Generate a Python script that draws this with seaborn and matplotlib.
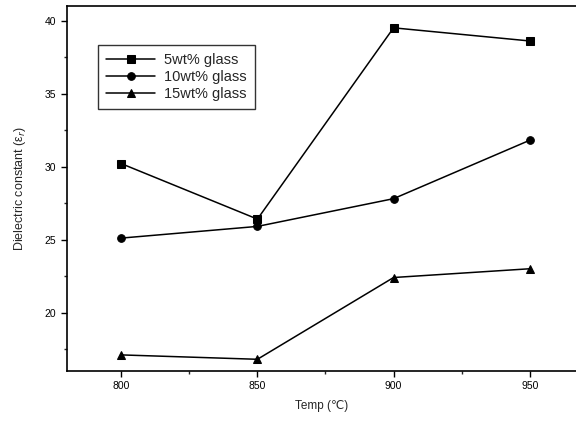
import matplotlib
matplotlib.use("Agg")
import matplotlib.pyplot as plt
from matplotlib.ticker import MultipleLocator
import pandas as pd
import seaborn as sns

temps = [800, 850, 900, 950]
glass_5 = [30.2, 26.4, 39.5, 38.6]
glass_10 = [25.1, 25.9, 27.8, 31.8]
glass_15 = [17.1, 16.8, 22.4, 23.0]
labels = ["5wt% glass", "10wt% glass", "15wt% glass"]

df = pd.DataFrame({
    "Temp": temps * 3,
    "value": glass_5 + glass_10 + glass_15,
    "series": [labels[0]] * 4 + [labels[1]] * 4 + [labels[2]] * 4,
})

sns.set_style("ticks")
plt.rcParams["font.family"] = ["Liberation Sans", "DejaVu Sans"]

fig = plt.figure(figsize=(5.76, 4.23), dpi=100)
ax = fig.add_axes([0.116, 0.123, 0.884, 0.863])

sns.lineplot(data=df, x="Temp", y="value", hue="series", style="series",
             markers=["s", "o", "^"], dashes=False,
             palette=["black"] * 3, markersize=5.5, linewidth=1.1,
             markeredgecolor="black", ax=ax)

ax.set_xlim(780, 967)
ax.set_ylim(16, 41)
ax.xaxis.set_major_locator(MultipleLocator(50))
ax.xaxis.set_minor_locator(MultipleLocator(25))
ax.yaxis.set_major_locator(MultipleLocator(5))
ax.yaxis.set_minor_locator(MultipleLocator(2.5))
ax.tick_params(which="major", length=4, width=1, labelsize=7.5, colors="black")
ax.tick_params(which="minor", length=2.5, width=1)
for s in ["left", "bottom", "top"]:
    ax.spines[s].set_color("black")
    ax.spines[s].set_linewidth(1.2)
ax.spines["right"].set_visible(False)

ax.set_xlabel("Temp (℃)", fontsize=8.5, labelpad=6)
ax.set_ylabel("Dielectric constant (ε$_r$)", fontsize=9, labelpad=12)

leg = ax.legend(loc="upper left", bbox_to_anchor=(0.061, 0.893), borderaxespad=0,
                fontsize=10.5, frameon=True, fancybox=False, edgecolor="black",
                handlelength=3.4, handletextpad=0.6, labelspacing=0.2,
                borderpad=0.55)
leg.get_frame().set_linewidth(1)

fig.savefig("out.png", dpi=100)
